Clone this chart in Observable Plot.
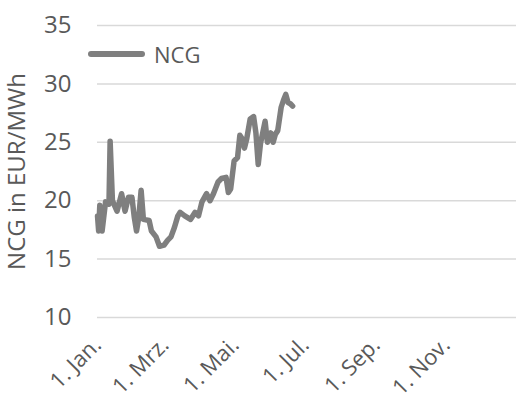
<!DOCTYPE html>
<html>
<head>
<meta charset="utf-8">
<script src="https://cdn.jsdelivr.net/npm/d3@7"></script>
<script src="https://cdn.jsdelivr.net/npm/@observablehq/plot@0.6"></script>
<style>
  html, body { margin: 0; padding: 0; background: #fff; }
  #wrap { position: relative; width: 516px; height: 401px; font-family: "Open Sans", sans-serif; }
  #legend { position: absolute; left: 88px; top: 39px; display: flex; align-items: center; color: #595959; font-size: 22px; }
  #legend .sw { width: 57px; height: 6px; border-radius: 3px; background: #7f7f7f; margin-right: 9px; }
</style>
</head>
<body>
<div id="wrap"><div id="legend"><span class="sw"></span><span>NCG</span></div></div>
<script>
const seriesName = "NCG";
const yLabel = "NCG in EUR/MWh";
const dates = ["2018-01-01","2018-01-02","2018-01-03","2018-01-05","2018-01-08","2018-01-11","2018-01-12","2018-01-14","2018-01-18","2018-01-22","2018-01-25","2018-01-28","2018-01-31","2018-02-02","2018-02-04","2018-02-06","2018-02-08","2018-02-10","2018-02-15","2018-02-17","2018-02-21","2018-02-24","2018-02-28","2018-03-03","2018-03-06","2018-03-09","2018-03-12","2018-03-14","2018-03-18","2018-03-23","2018-03-27","2018-03-30","2018-04-02","2018-04-06","2018-04-09","2018-04-12","2018-04-16","2018-04-19","2018-04-23","2018-04-25","2018-04-27","2018-04-30","2018-05-03","2018-05-05","2018-05-07","2018-05-09","2018-05-11","2018-05-14","2018-05-17","2018-05-19","2018-05-21","2018-05-23","2018-05-27","2018-05-29","2018-06-01","2018-06-03","2018-06-05","2018-06-07","2018-06-10","2018-06-12","2018-06-14","2018-06-16","2018-06-18","2018-06-20"];
const prices = [18.7,17.4,19.6,17.4,19.9,19.7,25.1,20.0,19.1,20.6,19.1,20.3,20.3,18.6,17.4,18.6,20.9,18.4,18.3,17.4,16.9,16.1,16.2,16.6,16.9,17.7,18.7,19.0,18.7,18.4,19.0,18.7,19.9,20.6,20.0,20.6,21.6,21.9,22.0,20.7,21.0,23.4,23.7,25.6,25.3,24.5,25.3,27.0,27.2,25.8,23.1,24.9,26.8,25.0,25.8,25.0,25.7,26.0,28.0,28.6,29.1,28.4,28.3,28.1];
const yTicks = [10, 15, 20, 25, 30, 35];
const xTickDates = ["2018-01-01","2018-03-01","2018-05-01","2018-07-01","2018-09-01","2018-11-01"];
const monthNames = ["Jan.","Feb.","Mrz.","Apr.","Mai.","Jun.","Jul.","Aug.","Sep.","Okt.","Nov.","Dez."];

const data = dates.map((d, i) => ({date: new Date(d + "T00:00:00Z"), value: prices[i]}));
const xTicks = xTickDates.map(d => new Date(d + "T00:00:00Z"));
const x0 = new Date("2018-01-01T00:00:00Z"), x1 = new Date("2019-01-01T00:00:00Z");

const chart = Plot.plot({
  width: 516,
  height: 401,
  marginLeft: 97,
  marginRight: 0,
  marginTop: 25,
  marginBottom: 84,
  style: {fontFamily: "Open Sans", fontSize: "22px", color: "#595959", background: "white"},
  x: {type: "utc", domain: [x0, x1]},
  y: {domain: [10, 35]},
  marks: [
    Plot.gridY(yTicks, {stroke: "#d9d9d9", strokeOpacity: 1, strokeWidth: 1.5, x1: x0, x2: x1}),
    Plot.axisY(yTicks, {tickSize: 0, tickPadding: 26, label: null, fill: "#595959", fontSize: 24}),
    Plot.axisX(xTicks, {tickSize: 0, tickRotate: -45, tickPadding: 24, label: null, fill: "#595959", fontSize: 22,
      tickFormat: d => "1. " + monthNames[d.getUTCMonth()]}),
    Plot.text([yLabel], {frameAnchor: "left", textAnchor: "middle", rotate: -90, dx: -80, fill: "#595959", fontSize: 24}),
    Plot.line(data, {x: "date", y: "value", stroke: "#7f7f7f", strokeWidth: 5.5, strokeLinejoin: "round", strokeLinecap: "round"})
  ]
});
document.getElementById("wrap").prepend(chart);
chart.style.display = "block";
</script>
</body>
</html>
